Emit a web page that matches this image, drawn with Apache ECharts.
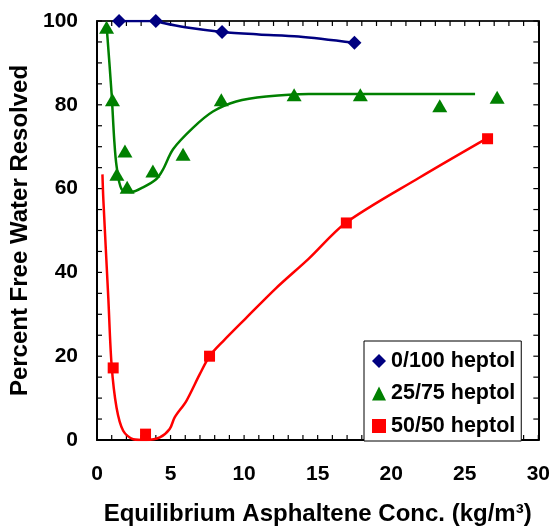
<!DOCTYPE html>
<html>
<head>
<meta charset="utf-8">
<script src="https://cdn.jsdelivr.net/npm/echarts@6/dist/echarts.min.js"></script>
<style>
html,body{margin:0;padding:0;background:#fff;}
#chart{width:553px;height:531px;}
</style>
</head>
<body>
<div id="chart"></div>
<script>
// Measured markers
const blueX = [1.5, 4, 8.5, 17.5];
const blueY = [100, 100, 97.4, 94.8];
const greenX = [0.65, 1.05, 1.35, 1.9, 2.05, 3.8, 5.85, 8.45, 13.4, 17.9, 23.3, 27.2];
const greenY = [98.5, 81.2, 63.4, 69, 60.3, 64.2, 68.2, 81.2, 82.4, 82.4, 79.8, 81.8];
const redX = [1.1, 3.3, 7.65, 16.95, 26.55];
const redY = [17.2, 1.4, 20, 51.8, 71.9];

// Trend curves
const blueCurveX = [1.5, 4, 4.5, 6, 8.5, 11, 13.7, 17.5];
const blueCurveY = [100, 100, 99.5, 98.5, 97.4, 96.8, 96.3, 94.8];
const greenCurveX = [0.66, 0.99, 1.17, 1.33, 1.67, 2.35, 3.13, 4.04, 4.49, 5.17, 6.52, 7.88, 9.46, 11.5, 14.4, 25.7];
const greenCurveY = [98.5, 82.8, 71.7, 65.4, 59.9, 59.2, 60.3, 62.3, 64.6, 69.4, 74.5, 78.4, 80.8, 82, 82.6, 82.6];
const redCurveX = [0.37, 0.43, 0.77, 0.99, 1.33, 1.78, 2.46, 3.36, 4.27, 4.94, 5.28, 6.07, 6.97, 7.65, 8.55, 10.13, 12.16, 14.4, 16.9, 21.9, 26.5];
const redCurveY = [63.4, 57.5, 33.8, 18, 7.7, 2.2, 0.2, 0, 0.6, 2.6, 5.4, 9.3, 15.6, 20, 23.5, 29.1, 36.2, 43.3, 51.8, 62.6, 72];

// Tick positions (minor ticks every 1 on x, every 5 on y)
const xTickValues = [0,1,2,3,4,5,6,7,8,9,10,11,12,13,14,15,16,17,18,19,20,21,22,23,24,25,26,27,28,29,30];
const yTickValues = [0,5,10,15,20,25,30,35,40,45,50,55,60,65,70,75,80,85,90,95,100];

const seriesNames = ['0/100 heptol', '25/75 heptol', '50/50 heptol'];
const xTitle = 'Equilibrium Asphaltene Conc. (kg/m³)';
const yTitle = 'Percent Free Water Resolved';

const zip = (xs, ys) => xs.map((x, i) => [x, ys[i]]);
const FONT = "'Liberation Sans', Arial, sans-serif";
const BLUE = '#000080', GREEN = '#008000', RED = '#ff0000';
const X_MIN = 0, X_MAX = 30, Y_MIN = 0, Y_MAX = 100;
const TICK_LEN = 5;
const tickLine = (x1, y1, x2, y2) => ({type: 'line', shape: {x1: x1, y1: y1, x2: x2, y2: y2}, style: {stroke: '#000', lineWidth: 1.2}});

const chart = echarts.init(document.getElementById('chart'), null, {renderer: 'canvas'});
chart.setOption({
  animation: false,
  backgroundColor: '#fff',
  grid: {left: 97, right: 13, top: 21, bottom: 88, containLabel: false},
  legend: {
    data: seriesNames,
    orient: 'vertical',
    left: 364, top: 341,
    padding: [9, 6, 4, 8],
    itemWidth: 14, itemHeight: 14,
    itemGap: 10.5,
    borderColor: '#000', borderWidth: 1,
    backgroundColor: '#fff',
    textStyle: {fontFamily: FONT, fontWeight: 'bold', fontSize: 21.5, lineHeight: 21, color: '#000'}
  },
  xAxis: [{
    type: 'value', min: X_MIN, max: X_MAX, interval: 5,
    name: xTitle, nameLocation: 'middle', nameGap: 62,
    nameTextStyle: {fontFamily: FONT, fontWeight: 'bold', fontSize: 24, color: '#000'},
    axisLine: {show: true, onZero: false, lineStyle: {color: '#000', width: 2}},
    axisTick: {show: false},
    splitLine: {show: false},
    axisLabel: {fontFamily: FONT, fontWeight: 'bold', fontSize: 21, color: '#000', margin: 24}
  }, {
    type: 'value', min: X_MIN, max: X_MAX, interval: 5, position: 'top',
    axisLine: {show: true, onZero: false, lineStyle: {color: '#222', width: 2}},
    axisTick: {show: false},
    splitLine: {show: false},
    axisLabel: {show: false}
  }],
  yAxis: [{
    type: 'value', min: Y_MIN, max: Y_MAX, interval: 20,
    name: yTitle, nameLocation: 'middle', nameGap: 62,
    nameTextStyle: {fontFamily: FONT, fontWeight: 'bold', fontSize: 24, color: '#000'},
    axisLine: {show: true, onZero: false, lineStyle: {color: '#000', width: 2}},
    axisTick: {show: false},
    splitLine: {show: false},
    axisLabel: {fontFamily: FONT, fontWeight: 'bold', fontSize: 21, color: '#000', margin: 19}
  }, {
    type: 'value', min: Y_MIN, max: Y_MAX, interval: 20, position: 'right',
    axisLine: {show: true, onZero: false, lineStyle: {color: '#000', width: 2}},
    axisTick: {show: false},
    splitLine: {show: false},
    axisLabel: {show: false}
  }],
  series: [
    {
      type: 'custom', name: 'x-ticks', coordinateSystem: 'cartesian2d', xAxisIndex: 0, yAxisIndex: 0,
      silent: true, clip: false, z: 1,
      data: xTickValues.map(v => [v, Y_MIN]),
      renderItem: function (params, api) {
        const b = api.coord([api.value(0), Y_MIN]);
        const t = api.coord([api.value(0), Y_MAX]);
        return {type: 'group', children: [
          tickLine(b[0], b[1], b[0], b[1] - TICK_LEN),
          tickLine(t[0], t[1], t[0], t[1] + TICK_LEN)
        ]};
      }
    },
    {
      type: 'custom', name: 'y-ticks', coordinateSystem: 'cartesian2d', xAxisIndex: 0, yAxisIndex: 0,
      silent: true, clip: false, z: 1,
      data: yTickValues.map(v => [X_MIN, v]),
      renderItem: function (params, api) {
        const l = api.coord([X_MIN, api.value(1)]);
        const r = api.coord([X_MAX, api.value(1)]);
        return {type: 'group', children: [
          tickLine(l[0], l[1], l[0] + TICK_LEN, l[1]),
          tickLine(r[0], r[1], r[0] - TICK_LEN, r[1])
        ]};
      }
    },
    {type: 'line', name: 'blue-fit', data: zip(blueCurveX, blueCurveY), smooth: 0.3, showSymbol: false, lineStyle: {color: BLUE, width: 2.5}, z: 2, silent: true},
    {type: 'line', name: 'green-fit', data: zip(greenCurveX, greenCurveY), smooth: 0.3, showSymbol: false, lineStyle: {color: GREEN, width: 2.5}, z: 2, silent: true},
    {type: 'line', name: 'red-fit', data: zip(redCurveX, redCurveY), smooth: 0.3, showSymbol: false, lineStyle: {color: RED, width: 2.5}, z: 2, silent: true},
    {type: 'scatter', name: seriesNames[0], data: zip(blueX, blueY), symbol: 'diamond', symbolSize: [14, 14], itemStyle: {color: BLUE, opacity: 1}, z: 3},
    {type: 'scatter', name: seriesNames[1], data: zip(greenX, greenY), symbol: 'triangle', symbolSize: [15, 13], itemStyle: {color: GREEN, opacity: 1}, z: 3},
    {type: 'scatter', name: seriesNames[2], data: zip(redX, redY), symbol: 'rect', symbolSize: [11, 11], itemStyle: {color: RED, opacity: 1}, z: 3}
  ]
});
</script>
</body>
</html>
